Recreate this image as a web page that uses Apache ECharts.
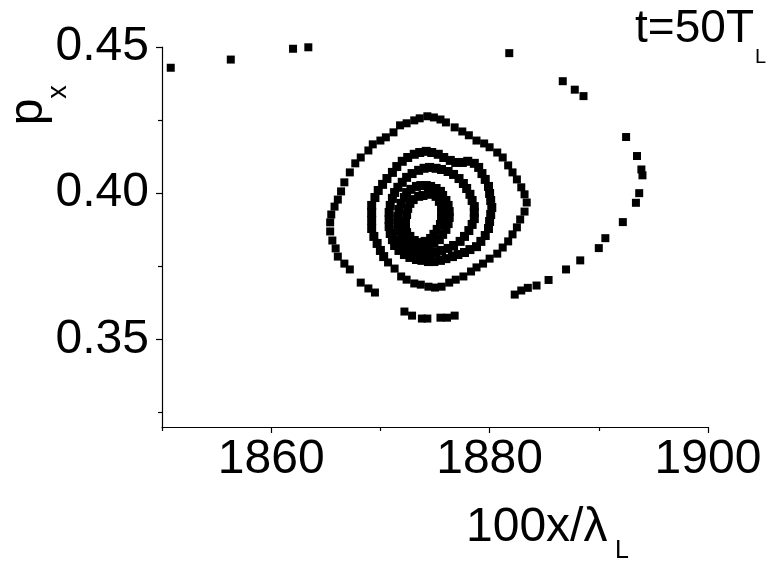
<!DOCTYPE html>
<html>
<head>
<meta charset="utf-8">
<script src="https://cdn.jsdelivr.net/npm/echarts@6/dist/echarts.min.js"></script>
<style>
  html, body { margin: 0; padding: 0; background: #fff; }
  #myChart { width: 773px; height: 561px; }
</style>
</head>
<body>
<div id="myChart"></div>
<script>
// axis ticks
const xMajor = [1860, 1880, 1900]
const xMinor = [1850, 1870, 1890]
const yMajor = [0.35, 0.40, 0.45]
const yMinor = [0.325, 0.375, 0.425]

// phase space points (100x/lambda, px)
const farArm = [
  [1850.8, 0.4429], [1856.3, 0.4457], [1862.0, 0.4494], [1863.4, 0.4499], [1881.8, 0.4479],
  [1886.7, 0.4383], [1887.8, 0.4354], [1888.6, 0.4332], [1892.5, 0.4192], [1893.5, 0.4127],
  [1893.9, 0.4081], [1894.0, 0.4061], [1893.7, 0.4000], [1893.4, 0.3967], [1892.2, 0.3901],
  [1890.6, 0.3846], [1890.0, 0.3812], [1888.3, 0.3770], [1887.0, 0.3739], [1885.4, 0.3703],
  [1884.3, 0.3684], [1883.5, 0.3676], [1882.9, 0.3667], [1882.3, 0.3653]
]
const bottomArc = [
  [1876.8, 0.3581], [1876.1, 0.3574], [1875.5, 0.3574], [1874.3, 0.3571], [1873.8, 0.3571],
  [1872.9, 0.3581], [1872.2, 0.3595]
]
const outerTurn = [
  [1869.5, 0.3660], [1868.9, 0.3674], [1868.2, 0.3694], [1867.2, 0.3739], [1866.7, 0.3759],
  [1866.1, 0.3783], [1865.9, 0.3811], [1865.6, 0.3838], [1865.4, 0.3869], [1865.4, 0.3900],
  [1865.5, 0.3927], [1865.8, 0.3954], [1866.1, 0.3978], [1866.4, 0.4006], [1866.7, 0.4037],
  [1867.2, 0.4071], [1867.7, 0.4102], [1868.2, 0.4122], [1868.9, 0.4146], [1869.3, 0.4167],
  [1870.0, 0.4180], [1870.5, 0.4191], [1871.2, 0.4208], [1871.8, 0.4232], [1872.4, 0.4239],
  [1873.1, 0.4249], [1873.6, 0.4256], [1874.3, 0.4263], [1874.9, 0.4259], [1875.5, 0.4252],
  [1876.0, 0.4242], [1876.8, 0.4225], [1877.5, 0.4211], [1878.1, 0.4198], [1878.8, 0.4180],
  [1879.5, 0.4170], [1880.0, 0.4157], [1880.7, 0.4139], [1881.2, 0.4122], [1881.7, 0.4095],
  [1882.1, 0.4071], [1882.5, 0.4047], [1882.9, 0.4020], [1883.2, 0.3996], [1883.4, 0.3968],
  [1883.2, 0.3937], [1882.8, 0.3910], [1882.5, 0.3883], [1882.1, 0.3859], [1881.7, 0.3835],
  [1881.2, 0.3814], [1880.7, 0.3793], [1880.0, 0.3776], [1879.4, 0.3759], [1878.8, 0.3746],
  [1878.3, 0.3732], [1877.6, 0.3715], [1876.9, 0.3704], [1876.3, 0.3694], [1875.6, 0.3680],
  [1875.0, 0.3677], [1874.4, 0.3680], [1873.7, 0.3687], [1873.1, 0.3691], [1872.4, 0.3704],
  [1871.9, 0.3715], [1871.3, 0.3742], [1870.7, 0.3763]
]
const ring2 = [
  [1870.3, 0.3783], [1870.0, 0.3804], [1869.7, 0.3828], [1869.4, 0.3852], [1869.2, 0.3879],
  [1869.2, 0.3907], [1869.2, 0.3934], [1869.2, 0.3958], [1869.5, 0.3985], [1869.8, 0.4009],
  [1870.2, 0.4030], [1870.6, 0.4050], [1871.1, 0.4071], [1871.5, 0.4091], [1872.0, 0.4109],
  [1872.5, 0.4122], [1873.1, 0.4133], [1873.6, 0.4139], [1874.2, 0.4143], [1874.7, 0.4139],
  [1875.3, 0.4133], [1875.8, 0.4122], [1876.4, 0.4112], [1876.9, 0.4105], [1877.5, 0.4105],
  [1878.0, 0.4109], [1878.6, 0.4102], [1879.0, 0.4088], [1879.3, 0.4067], [1879.6, 0.4047],
  [1879.9, 0.4023], [1880.0, 0.3999], [1880.1, 0.3975], [1880.2, 0.3951], [1880.1, 0.3927],
  [1880.0, 0.3903], [1879.9, 0.3879], [1879.6, 0.3855], [1879.2, 0.3835], [1878.8, 0.3817],
  [1878.2, 0.3807], [1877.7, 0.3797], [1877.1, 0.3790], [1876.6, 0.3783], [1876.0, 0.3776],
  [1875.5, 0.3770], [1874.9, 0.3766], [1874.4, 0.3766], [1873.8, 0.3770], [1873.3, 0.3773],
  [1872.7, 0.3780], [1872.2, 0.3790], [1871.7, 0.3804], [1871.3, 0.3821], [1871.1, 0.3841]
]
const ring3 = [
  [1870.9, 0.3862], [1870.8, 0.3886], [1870.8, 0.3910], [1870.8, 0.3934], [1870.9, 0.3958],
  [1871.1, 0.3982], [1871.3, 0.4002], [1871.6, 0.4020], [1872.0, 0.4037], [1872.4, 0.4054],
  [1872.9, 0.4067], [1873.5, 0.4078], [1874.0, 0.4085], [1874.5, 0.4088], [1875.1, 0.4085],
  [1875.6, 0.4081], [1876.2, 0.4074], [1876.7, 0.4064], [1877.2, 0.4050], [1877.6, 0.4033],
  [1877.9, 0.4016], [1878.2, 0.3996], [1878.4, 0.3975], [1878.6, 0.3954], [1878.6, 0.3934],
  [1878.6, 0.3913], [1878.4, 0.3893], [1878.1, 0.3872], [1877.7, 0.3852], [1877.3, 0.3835],
  [1876.7, 0.3821], [1876.2, 0.3811], [1875.6, 0.3804], [1875.1, 0.3797], [1874.5, 0.3793],
  [1874.0, 0.3793], [1873.5, 0.3797], [1872.9, 0.3800], [1872.4, 0.3811], [1872.0, 0.3824],
  [1871.7, 0.3841]
]
const coreOuter = [
  [1871.6, 0.3872], [1871.6, 0.3896], [1871.6, 0.3920], [1871.7, 0.3944], [1871.9, 0.3965],
  [1872.2, 0.3985], [1872.4, 0.4002], [1872.8, 0.4013], [1873.3, 0.4023], [1873.7, 0.4026],
  [1874.2, 0.4026], [1874.6, 0.4023], [1875.1, 0.4016], [1875.5, 0.4006], [1875.7, 0.3992],
  [1876.0, 0.3975], [1876.2, 0.3958], [1876.3, 0.3937], [1876.3, 0.3917], [1876.2, 0.3896],
  [1876.0, 0.3876], [1875.7, 0.3859], [1875.4, 0.3841], [1874.9, 0.3828], [1874.4, 0.3817],
  [1873.8, 0.3814], [1873.3, 0.3814], [1872.8, 0.3821], [1872.4, 0.3831], [1872.2, 0.3848],
  [1872.0, 0.3865]
]
const coreInner = [
  [1872.3, 0.3879], [1872.3, 0.3903], [1872.4, 0.3927], [1872.5, 0.3948], [1872.7, 0.3965],
  [1873.0, 0.3978], [1873.5, 0.3989], [1873.9, 0.3992], [1874.4, 0.3996], [1874.7, 0.3999],
  [1875.1, 0.3989], [1875.4, 0.3972], [1875.6, 0.3954], [1875.6, 0.3934], [1875.6, 0.3913],
  [1875.5, 0.3893], [1875.2, 0.3876], [1874.9, 0.3859], [1874.6, 0.3845], [1874.1, 0.3835],
  [1873.5, 0.3831], [1873.1, 0.3838], [1872.7, 0.3852], [1872.4, 0.3865]
]

const FONT = 'Liberation Sans, Arial, sans-serif'
const sparsePoints = [].concat(farArm, bottomArc, outerTurn)
const densePoints = [].concat(ring2, ring3, coreOuter, coreInner)

const chart = echarts.init(document.getElementById('myChart'))

// plain text helper for the graphic labels
const txt = (x, y, text, size, align, rot) => ({
  type: 'text',
  x: x,
  y: y,
  rotation: rot || 0,
  silent: true,
  style: {
    text: text,
    fill: '#000',
    font: size + 'px ' + FONT,
    align: align,
    textAlign: align,
    verticalAlign: 'middle',
    textVerticalAlign: 'middle'
  }
})

const axisBase = {
  type: 'value',
  splitLine: { show: false },
  axisLine: { show: true, onZero: false, lineStyle: { color: '#000', width: 1.2 } }
}
const tickStyle = { color: '#000', width: 1.2 }

const option = {
  animation: false,
  backgroundColor: '#fff',
  grid: { left: 162, right: 65, top: 47, bottom: 134 },
  xAxis: [
    {
      ...axisBase,
      min: 1850,
      max: 1900,
      position: 'bottom',
      axisTick: { customValues: xMajor, length: 6, lineStyle: tickStyle },
      axisLabel: {
        customValues: xMajor,
        margin: 9,
        color: '#000',
        fontSize: 48,
        fontFamily: FONT,
        formatter: (v) => String(v)
      }
    },
    {
      ...axisBase,
      min: 1850,
      max: 1900,
      position: 'bottom',
      axisLine: { show: false },
      axisTick: { customValues: xMinor, length: 4, lineStyle: tickStyle },
      axisLabel: { show: false }
    }
  ],
  yAxis: [
    {
      ...axisBase,
      min: 0.32,
      max: 0.45,
      position: 'left',
      axisTick: { customValues: yMajor, length: 6, lineStyle: tickStyle },
      axisLabel: {
        customValues: yMajor,
        margin: 13,
        color: '#000',
        fontSize: 48,
        fontFamily: FONT,
        formatter: (v) => v.toFixed(2)
      }
    },
    {
      ...axisBase,
      min: 0.32,
      max: 0.45,
      position: 'left',
      axisLine: { show: false },
      axisTick: { customValues: yMinor, length: 4, lineStyle: tickStyle },
      axisLabel: { show: false }
    }
  ],
  series: [
    {
      type: 'scatter',
      xAxisIndex: 0,
      yAxisIndex: 0,
      symbol: 'rect',
      symbolSize: 8,
      itemStyle: { color: '#000', opacity: 1 },
      data: sparsePoints
    },
    {
      // inner turns are sampled densely, marks merge into thick lines
      type: 'scatter',
      xAxisIndex: 0,
      yAxisIndex: 0,
      symbol: 'rect',
      symbolSize: 9,
      itemStyle: { color: '#000', opacity: 1 },
      data: densePoints
    }
  ],
  graphic: [
    // axis titles and time stamp
    txt(29, 112, 'p', 48, 'center', Math.PI / 2),
    txt(59, 92, 'x', 27, 'center', Math.PI / 2),
    txt(466, 528, '100x/λ', 48, 'left'),
    txt(615, 551, 'L', 25, 'left'),
    txt(754, 29, 't=50T', 46, 'right'),
    txt(755, 57, 'L', 20, 'left')
  ]
}

chart.setOption(option)
</script>
</body>
</html>
